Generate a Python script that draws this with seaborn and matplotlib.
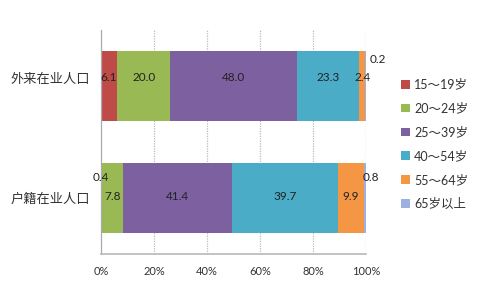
import matplotlib
matplotlib.use("Agg")
import matplotlib.pyplot as plt
from matplotlib.transforms import ScaledTranslation
import seaborn as sns
import pandas as pd
import numpy as np

categories = ["外来在业人口", "户籍在业人口"]
age_groups = ["15～19岁", "20～24岁", "25～39岁", "40～54岁", "55～64岁", "65岁以上"]
migrant = [6.1, 20.0, 48.0, 23.3, 2.4, 0.2]
local = [0.4, 7.8, 41.4, 39.7, 9.9, 0.8]
xticks = [0, 20, 40, 60, 80, 100]
xtick_labels = ["0%", "20%", "40%", "60%", "80%", "100%"]

colors = ["#BE4B48", "#98B954", "#7D60A0", "#4AACC6", "#F59645", "#9DB1E0"]

sns.set_theme(style="white")
plt.rcParams["font.family"] = ["Lato", "Noto Sans CJK SC", "DejaVu Sans"]

df = pd.DataFrame({"cat": categories})
for g, a, b in zip(age_groups, migrant, local):
    df[g] = [a, b]
cum = df[age_groups].cumsum(axis=1)

fig = plt.figure(figsize=(4.8, 2.88), dpi=100)
ax = fig.add_axes([0.2104, 0.1181, 0.5521, 0.7777])

# draw cumulative bars from the largest down so they appear stacked
for i in range(len(age_groups) - 1, -1, -1):
    g = age_groups[i]
    sns.barplot(data=pd.DataFrame({"cat": categories, "v": cum[g].values}),
                y="cat", x="v", orient="h", color=colors[i], width=0.62,
                saturation=1, ax=ax, label=g, linewidth=0)

# labels
row_dy = {0: 6, 1: 1}
offsets = {(0, 5): (3, 19, "left"), (1, 0): (-0.5, 15, "center"), (1, 5): (-2, 15, "left")}
for r in range(len(categories)):
    left = 0.0
    vals = df.loc[r, age_groups].values
    for i, v in enumerate(vals):
        cx = left + v / 2
        dx, dy, ha = offsets.get((r, i), (0, row_dy[r], "center"))
        ax.annotate(f"{v:.1f}", (cx, r), xytext=(dx, dy), textcoords="offset points",
                    ha=ha, va="center", fontsize=8.5, color="#222222")
        left += v

ax.set_xlim(0, 100)
ax.set_ylim(1.5, -0.5)
ax.set_xticks(xticks)
ax.set_xticklabels(xtick_labels, fontsize=8, color="#333333")
ax.set_xlabel("")
ax.set_ylabel("")
ax.tick_params(axis="y", labelsize=9.5, colors="#333333", length=0, pad=8)
ax.tick_params(axis="x", length=0, pad=9)
for lab in ax.get_yticklabels():
    lab.set_fontfamily(["Noto Sans CJK SC", "DejaVu Sans"])
top_lab = ax.get_yticklabels()[0]
top_lab.set_transform(top_lab.get_transform() + ScaledTranslation(0, 0.08, fig.dpi_scale_trans))

for xv in xticks[1:]:
    ax.axvline(xv, color="#BBBBBB", lw=0.9, ls=(0, (1, 1)), zorder=0)
for s in ["top", "right"]:
    ax.spines[s].set_visible(False)
ax.spines["bottom"].set_color("#BBBBBB")
ax.spines["bottom"].set_linestyle((0, (1, 1)))
ax.spines["left"].set_color("#AAAAAA")
ax.spines["left"].set_linewidth(0.9)

handles, labels = ax.get_legend_handles_labels()
order = [labels.index(g) for g in age_groups]
leg = ax.legend([handles[k] for k in order], [labels[k] for k in order],
                loc="center left", bbox_to_anchor=(1.115, 0.49), frameon=False,
                fontsize=9, handlelength=0.7, handleheight=0.7, handletextpad=0.3,
                labelspacing=0.95, borderaxespad=0)
for t in leg.get_texts():
    t.set_color("#333333")

fig.savefig("out.png", dpi=100)
